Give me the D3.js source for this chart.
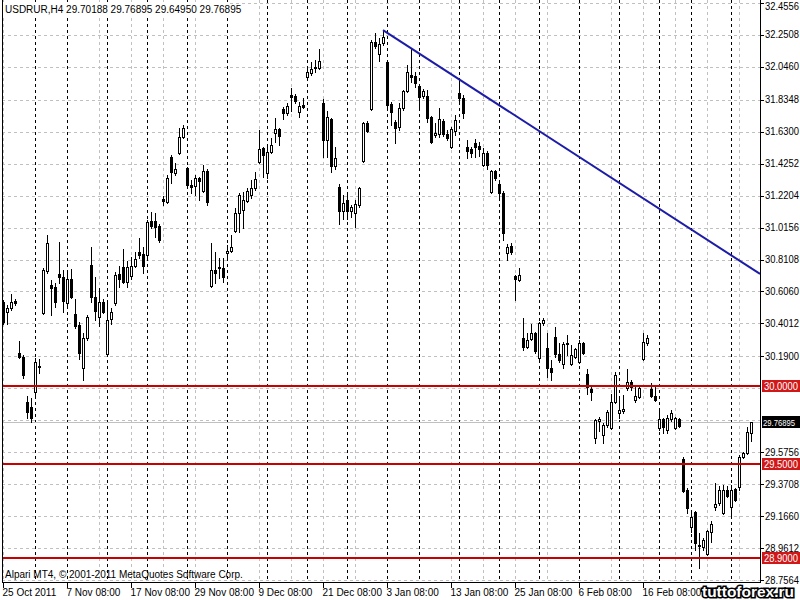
<!DOCTYPE html>
<html>
<head>
<meta charset="utf-8">
<script src="https://cdn.jsdelivr.net/npm/d3@7/dist/d3.min.js"></script>
<style>
  html, body { margin: 0; padding: 0; background: #fff; }
  svg { display: block; }
  text { font-family: "Liberation Sans", Arial, sans-serif; }
</style>
</head>
<body>
<svg id="chart" width="800" height="600"></svg>
<script>
// ---------------- DATA ----------------
const symbolTitle = "USDRUR,H4";
const headerValues = ["29.70188", "29.76895", "29.64950", "29.76895"];
const copyright = "Alpari MT4, © 2001-2011 MetaQuotes Software Corp.";
const watermark = "tuttoforex.ru";

const open = [
30.539,30.475,30.501,30.546,30.212,30.187,29.898,29.866,29.962,30.123,
30.469,30.738,30.648,30.635,30.719,30.699,30.533,30.687,30.462,30.392,
30.116,30.308,30.776,30.571,30.443,30.539,30.206,30.430,30.533,30.719,
30.764,30.667,30.706,30.770,30.860,30.847,30.840,31.058,31.058,31.026,
31.199,31.180,31.469,31.366,31.494,31.597,31.398,31.289,31.283,31.334,
31.251,31.379,30.642,30.744,30.757,30.757,30.853,30.866,30.994,31.110,
31.129,31.187,31.225,31.270,31.437,31.526,31.366,31.501,31.622,31.648,
31.776,31.751,31.866,31.860,31.757,31.802,31.981,32.007,32.046,32.039,
31.815,31.578,31.712,31.411,31.276,31.122,31.193,31.122,31.110,31.161,
31.443,31.687,31.776,32.206,32.129,32.199,32.078,31.808,31.693,31.661,
31.783,31.892,31.994,31.988,31.924,31.860,31.860,31.725,31.610,31.616,
31.699,31.616,31.533,31.635,31.879,31.847,31.533,31.520,31.558,31.539,
31.417,31.494,31.244,31.379,31.296,31.238,30.853,30.898,30.706,30.680,
30.308,30.251,30.302,30.340,30.180,30.405,30.244,30.116,30.315,30.206,
30.142,30.270,30.142,30.187,30.155,30.276,30.078,29.982,29.667,29.776,
29.687,29.751,29.732,29.898,29.828,29.840,29.988,30.026,29.911,29.930,
30.174,30.276,29.982,29.937,29.732,29.789,29.719,29.789,29.732,29.789,
29.533,29.334,29.097,29.193,28.975,28.969,28.924,29.065,29.225,29.251,
29.187,29.334,29.225,29.340,29.353,29.546,29.571,29.70188
];
const high = [
30.552,30.520,30.590,30.558,30.289,30.199,29.937,29.924,30.180,30.174,
30.757,30.969,30.680,30.661,30.924,30.744,30.725,30.751,30.558,30.411,
30.340,30.456,30.892,30.699,30.629,30.558,30.533,30.501,30.731,30.770,
30.879,30.802,30.828,30.860,30.949,30.892,31.065,31.116,31.110,31.039,
31.219,31.353,31.481,31.430,31.655,31.674,31.405,31.321,31.353,31.340,
31.417,31.392,30.917,30.860,30.821,30.821,30.905,30.969,31.142,31.238,
31.244,31.270,31.321,31.372,31.642,31.533,31.533,31.590,31.719,31.655,
31.789,31.815,31.911,31.872,31.821,31.847,32.039,32.078,32.090,32.161,
31.840,31.763,31.719,31.533,31.296,31.225,31.225,31.161,31.193,31.276,
31.693,31.699,32.219,32.263,32.231,32.276,32.090,31.821,31.706,31.815,
31.898,32.058,32.167,32.013,31.937,31.904,31.898,31.731,31.687,31.783,
31.712,31.642,31.661,31.738,31.962,31.866,31.578,31.533,31.584,31.565,
31.526,31.507,31.385,31.385,31.302,31.251,30.911,30.917,30.712,30.757,
30.437,30.340,30.398,30.347,30.411,30.437,30.340,30.167,30.379,30.276,
30.283,30.328,30.264,30.244,30.296,30.283,30.110,29.994,29.789,29.802,
29.764,29.847,29.949,30.090,29.924,29.943,30.110,30.039,29.994,30.007,
30.340,30.328,30.020,29.994,29.847,29.796,29.815,29.847,29.802,29.796,
29.546,29.347,29.193,29.200,29.058,29.026,29.078,29.135,29.379,29.360,
29.366,29.360,29.366,29.347,29.558,29.578,29.738,29.76895
];
const low = [
30.398,30.398,30.488,30.520,30.180,30.052,29.796,29.770,29.943,30.084,
30.462,30.725,30.456,30.507,30.661,30.475,30.507,30.565,30.373,30.174,
30.039,30.296,30.539,30.424,30.385,30.469,30.199,30.398,30.520,30.635,
30.661,30.635,30.687,30.764,30.821,30.725,30.828,31.014,30.956,30.924,
31.161,31.174,31.302,31.353,31.488,31.590,31.276,31.238,31.225,31.193,
31.244,31.161,30.635,30.661,30.693,30.667,30.821,30.860,30.988,30.988,
31.014,31.180,31.206,31.257,31.430,31.340,31.334,31.494,31.565,31.546,
31.712,31.738,31.763,31.815,31.725,31.783,31.975,31.994,32.013,32.033,
31.469,31.469,31.372,31.392,31.039,31.071,31.071,31.084,31.020,31.148,
31.437,31.629,31.770,32.167,32.084,32.187,31.789,31.674,31.558,31.642,
31.770,31.885,31.949,31.917,31.789,31.847,31.693,31.558,31.597,31.597,
31.603,31.578,31.526,31.610,31.821,31.719,31.462,31.469,31.469,31.475,
31.411,31.392,31.238,31.321,31.212,30.937,30.808,30.847,30.552,30.674,
30.231,30.244,30.296,30.212,30.174,30.392,30.058,30.039,30.187,30.155,
30.116,30.199,30.135,30.180,30.148,30.206,29.949,29.911,29.635,29.712,
29.635,29.738,29.725,29.892,29.796,29.828,29.975,29.975,29.898,29.924,
30.167,30.264,29.930,29.905,29.719,29.699,29.699,29.776,29.725,29.738,
29.321,29.187,29.065,28.949,28.834,28.949,28.917,29.001,29.206,29.238,
29.180,29.289,29.174,29.263,29.334,29.540,29.565,29.64950
];
const close = [
30.411,30.501,30.539,30.533,30.187,30.071,29.834,29.796,30.155,30.129,
30.744,30.917,30.629,30.539,30.699,30.546,30.687,30.571,30.385,30.212,
30.308,30.443,30.571,30.481,30.539,30.475,30.424,30.475,30.712,30.687,
30.667,30.764,30.770,30.815,30.840,30.770,31.052,31.026,31.020,30.937,
31.187,31.334,31.372,31.392,31.597,31.655,31.289,31.276,31.334,31.315,
31.379,31.180,30.744,30.725,30.764,30.699,30.866,30.892,31.110,31.225,
31.193,31.251,31.270,31.328,31.520,31.481,31.501,31.546,31.648,31.603,
31.751,31.796,31.853,31.828,31.796,31.789,32.013,32.033,32.039,32.084,
31.578,31.725,31.411,31.462,31.122,31.174,31.122,31.148,31.167,31.270,
31.687,31.635,32.206,32.180,32.193,32.238,31.802,31.757,31.655,31.783,
31.892,32.013,31.981,31.943,31.853,31.892,31.719,31.565,31.622,31.712,
31.616,31.590,31.648,31.706,31.847,31.751,31.507,31.494,31.533,31.520,
31.494,31.417,31.379,31.334,31.238,30.981,30.892,30.860,30.687,30.712,
30.251,30.296,30.340,30.225,30.405,30.424,30.116,30.090,30.206,30.167,
30.270,30.276,30.199,30.238,30.276,30.212,29.994,29.962,29.783,29.789,
29.751,29.834,29.898,30.071,29.847,29.853,30.026,29.994,29.937,29.988,
30.283,30.308,29.937,29.911,29.789,29.738,29.796,29.828,29.796,29.744,
29.328,29.219,29.161,28.994,28.978,29.013,29.071,29.116,29.244,29.334,
29.334,29.296,29.334,29.270,29.546,29.571,29.706,29.76895
];

// price axis tick labels (as printed by the terminal) and hidden grid values
const priceTicks = ["32.4556","32.2508","32.0460","31.8348","31.6300","31.4252","31.2204",
  "31.0156","30.8108","30.6060","30.4012","30.1900","29.9852","29.7804","29.5756",
  "29.3708","29.1660","28.9612","28.7564"];
// time axis labels, every 16 bars
const timeLabels = ["25 Oct 2011","7 Nov 08:00","17 Nov 08:00","29 Nov 08:00","9 Dec 08:00",
  "21 Dec 08:00","3 Jan 08:00","13 Jan 08:00","25 Jan 08:00","6 Feb 08:00","16 Feb 08:00"];
const timeLabelBars = [0,16,32,48,64,80,96,112,128,144,160];
// period separators (bar indices)
const separatorBars = [8,16,26,36,46,56,66,76,86,96,104,114,124,134,144,154,164,172,182];
// horizontal levels
const levels = [30.0, 29.5, 28.9];
const levelLabels = ["30.0000","29.5000","28.9000"];
const bidPrice = 29.76895;
const bidLabel = "29.76895";
// trend line anchors
const trendBars = [95, 187];
const trendPrices = [32.282, 30.756];

// ---------------- DRAW ----------------
const svg = d3.select("#chart");
const plotL = 2, plotR = 760, plotT = 0, plotB = 582;
const nBarsView = 189.25;

const x = d3.scaleLinear().domain([0, nBarsView]).range([3, plotR]);
const y = d3.scaleLinear().domain([28.7564, 32.4556]).range([580, 3]);
const px = v => Math.round(x(v)) + 0.5;
const py = v => Math.round(y(v)) + 0.5;

svg.append("rect").attr("width", 800).attr("height", 600).attr("fill", "#fff");

svg.append("clipPath").attr("id", "plotclip")
  .append("rect").attr("x", plotL).attr("y", plotT).attr("width", plotR - plotL).attr("height", plotB - plotT);

const plot = svg.append("g").attr("clip-path", "url(#plotclip)").attr("shape-rendering", "crispEdges");

// grid
const gridBars = d3.range(0, Math.floor(nBarsView), 8);
plot.selectAll("line.vgrid").data(gridBars).join("line")
  .attr("x1", d => px(d)).attr("x2", d => px(d))
  .attr("y1", plotT).attr("y2", plotB)
  .attr("stroke", "#c0c0c0").attr("stroke-dasharray", "3,3");
plot.selectAll("line.hgrid").data(priceTicks).join("line")
  .attr("x1", plotL).attr("x2", plotR)
  .attr("y1", d => py(+d)).attr("y2", d => py(+d))
  .attr("stroke", "#c0c0c0").attr("stroke-dasharray", "3,3");

// period separators
plot.selectAll("line.sep").data(separatorBars).join("line")
  .attr("x1", d => px(d)).attr("x2", d => px(d))
  .attr("y1", plotT).attr("y2", plotB)
  .attr("stroke", "#000").attr("stroke-dasharray", "3,3");

// bid line
plot.append("line").attr("x1", plotL).attr("x2", plotR)
  .attr("y1", py(bidPrice)).attr("y2", py(bidPrice))
  .attr("stroke", "#c0c0c0");

// candles
const bars = open.map((o, i) => ({ i, o, h: high[i], l: low[i], c: close[i] }));
const cg = plot.append("g");
cg.selectAll("line.wick").data(bars).join("line")
  .attr("x1", d => px(d.i)).attr("x2", d => px(d.i))
  .attr("y1", d => Math.round(y(d.h))).attr("y2", d => Math.round(y(d.l)) + 1)
  .attr("stroke", "#000");
cg.selectAll("rect.body").data(bars).join("rect")
  .attr("x", d => px(d.i) - 1)
  .attr("y", d => Math.round(y(Math.max(d.o, d.c))) + 0.5)
  .attr("width", 2)
  .attr("height", d => Math.max(0, Math.round(y(Math.min(d.o, d.c))) - Math.round(y(Math.max(d.o, d.c)))))
  .attr("fill", d => d.c >= d.o ? "#fff" : "#000")
  .attr("stroke", "#000");

// levels
plot.selectAll("line.level").data(levels).join("line")
  .attr("x1", plotL).attr("x2", plotR)
  .attr("y1", d => Math.round(y(d))).attr("y2", d => Math.round(y(d)))
  .attr("stroke", "#c80000").attr("stroke-width", 2);

// trend line (ray to the right)
const slope = (trendPrices[1] - trendPrices[0]) / (trendBars[1] - trendBars[0]);
const endPrice = trendPrices[0] + slope * (nBarsView - trendBars[0]);
svg.append("line")
  .attr("x1", x(trendBars[0])).attr("y1", y(trendPrices[0]))
  .attr("x2", x(nBarsView)).attr("y2", y(endPrice))
  .attr("stroke", "#1c1ca8").attr("stroke-width", 2);

// frame and axes
const frame = svg.append("g").attr("shape-rendering", "crispEdges").attr("stroke", "#000");
frame.append("line").attr("x1", plotL + 0.5).attr("x2", plotL + 0.5).attr("y1", plotT).attr("y2", plotB + 0.5);
frame.append("line").attr("x1", plotL).attr("x2", plotR + 1).attr("y1", plotB + 0.5).attr("y2", plotB + 0.5);
frame.append("line").attr("x1", plotR + 0.5).attr("x2", plotR + 0.5).attr("y1", plotT).attr("y2", plotB + 0.5);

// price axis labels
const markerYs = levels.map(y).concat([y(bidPrice)]);
const shownTicks = priceTicks.filter(t => markerYs.every(m => Math.abs(y(+t) - m) > 6));
const pa = svg.append("g");
pa.selectAll("line").data(shownTicks).join("line")
  .attr("x1", plotR).attr("x2", plotR + 4)
  .attr("y1", d => py(+d)).attr("y2", d => py(+d))
  .attr("stroke", "#000").attr("shape-rendering", "crispEdges");
pa.selectAll("text").data(shownTicks).join("text")
  .attr("x", plotR + 5).attr("y", d => Math.max(10, y(+d) + 3.5))
  .attr("font-size", 10).attr("fill", "#000")
  .attr("textLength", 34).attr("lengthAdjust", "spacingAndGlyphs")
  .text(d => d);

// level labels
levels.forEach((lv, k) => {
  const yy = Math.round(y(lv));
  svg.append("rect").attr("x", plotR + 2).attr("y", yy - 6).attr("width", 38).attr("height", 12).attr("fill", "#d01818");
  svg.append("text").attr("x", plotR + 4).attr("y", yy + 3.5).attr("font-size", 10).attr("fill", "#fff")
    .attr("textLength", 34).attr("lengthAdjust", "spacingAndGlyphs").text(levelLabels[k]);
});
{
  const yy = Math.round(y(bidPrice));
  svg.append("rect").attr("x", plotR + 2).attr("y", yy - 6).attr("width", 38).attr("height", 12).attr("fill", "#000");
  svg.append("text").attr("x", plotR + 3).attr("y", yy + 3.5).attr("font-size", 9.5).attr("fill", "#fff")
    .attr("textLength", 32).attr("lengthAdjust", "spacingAndGlyphs").text(bidLabel);
}

// time axis
const ta = svg.append("g");
ta.selectAll("line").data(timeLabelBars).join("line")
  .attr("x1", d => px(d)).attr("x2", d => px(d))
  .attr("y1", plotB).attr("y2", plotB + 6)
  .attr("stroke", "#000").attr("shape-rendering", "crispEdges");
ta.selectAll("text").data(timeLabelBars).join("text")
  .attr("x", d => px(d) - 1).attr("y", 596)
  .attr("font-size", 10).attr("fill", "#000")
  .text((d, k) => timeLabels[k]);

// header & copyright
svg.append("rect").attr("x", 3).attr("y", 2).attr("width", 226).attr("height", 13).attr("fill", "#fff");
svg.append("text").attr("x", 5).attr("y", 12.5).attr("font-size", 10).attr("fill", "#000")
  .text(symbolTitle + "  " + headerValues.join(" "));
svg.append("text").attr("x", 5).attr("y", 578).attr("font-size", 10).attr("fill", "#000")
  .text(copyright);

// watermark
svg.append("text").attr("x", 702).attr("y", 597)
  .attr("font-family", "'DejaVu Sans', sans-serif").attr("font-weight", "bold")
  .attr("font-size", 14).attr("fill", "#fff").attr("stroke", "#000").attr("stroke-width", 3)
  .attr("paint-order", "stroke").attr("textLength", 92).attr("lengthAdjust", "spacingAndGlyphs")
  .text(watermark);
</script>
</body>
</html>
